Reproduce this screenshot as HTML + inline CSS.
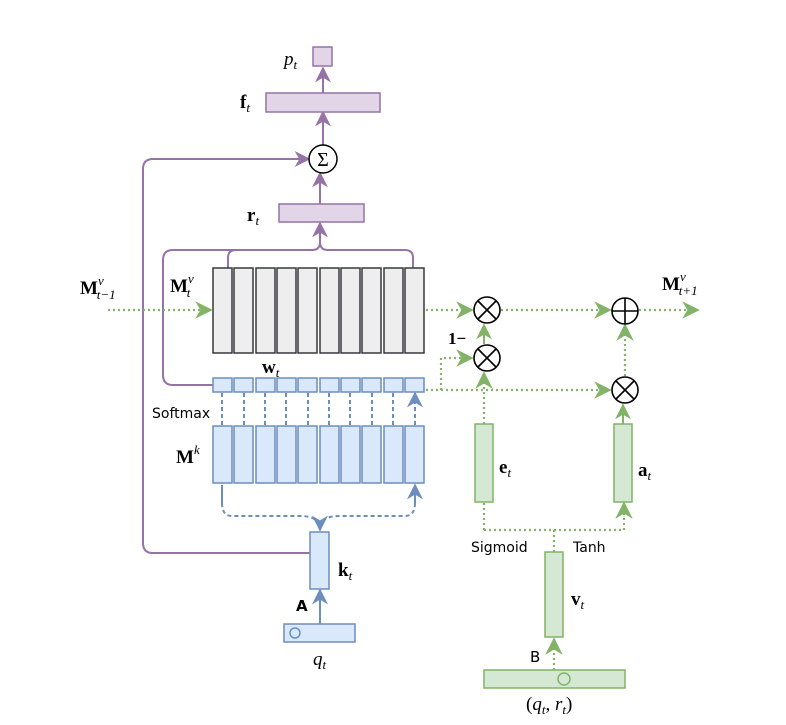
<!DOCTYPE html>
<html><head><meta charset="utf-8"><style>
body{margin:0;background:#fff}
svg{display:block}
</style></head><body>
<svg width="786" height="725" viewBox="0 0 786 725" xmlns="http://www.w3.org/2000/svg">
<defs>
<marker id="ap" viewBox="0 0 10 10" refX="9" refY="5" markerWidth="8" markerHeight="8" orient="auto"><path d="M0,0L10,5L0,10L3,5z" fill="#9673a6"/></marker>
<marker id="ab" viewBox="0 0 10 10" refX="9" refY="5" markerWidth="8" markerHeight="8" orient="auto"><path d="M0,0L10,5L0,10L3,5z" fill="#6c8ebf"/></marker>
<marker id="ag" viewBox="0 0 10 10" refX="9" refY="5" markerWidth="8" markerHeight="8" orient="auto"><path d="M0,0L10,5L0,10L3,5z" fill="#82b366"/></marker>
</defs>
<g stroke="#9673a6" stroke-width="2" fill="none">
<path d="M323,145V68" marker-end="url(#ap)"/>
<path d="M323,173V112" marker-end="url(#ap)"/>
<path d="M320,204V173" marker-end="url(#ap)"/>
<path d="M228,268V258Q228,250 236,250H312Q320,250 320,242M413,268V258Q413,250 405,250H328Q320,250 320,242V223" marker-end="url(#ap)"/>
<path d="M213,385H173Q163,385 163,375V260Q163,250 173,250H236"/>
<path d="M310,553H153Q143,553 143,543V169Q143,159 153,159H309" marker-end="url(#ap)"/>
</g>
<rect x="313" y="47" width="19" height="19" fill="#e1d5e7" stroke="#9673a6" stroke-width="1.5"/>
<rect x="266" y="93" width="114" height="19" fill="#e1d5e7" stroke="#9673a6" stroke-width="1.5"/>
<rect x="279" y="204" width="85" height="18" fill="#e1d5e7" stroke="#9673a6" stroke-width="1.5"/>
<circle cx="323" cy="159" r="14" fill="#fff" stroke="#000" stroke-width="1.5"/>
<text x="323" y="166" text-anchor="middle" style="font:20px 'Liberation Serif',serif">Σ</text>
<g stroke-width="1.5">
<g fill="#eeeeee" stroke="#36393d">
<rect x="213" y="268" width="19" height="85"/><rect x="234" y="268" width="19" height="85"/><rect x="256" y="268" width="19" height="85"/><rect x="277" y="268" width="19" height="85"/><rect x="298" y="268" width="19" height="85"/><rect x="320" y="268" width="19" height="85"/><rect x="341" y="268" width="19" height="85"/><rect x="362" y="268" width="19" height="85"/><rect x="384" y="268" width="19" height="85"/><rect x="405" y="268" width="19" height="85"/>
</g>
<g fill="#dae8fc" stroke="#6c8ebf">
<rect x="213" y="378" width="19" height="14"/><rect x="234" y="378" width="19" height="14"/><rect x="256" y="378" width="19" height="14"/><rect x="277" y="378" width="19" height="14"/><rect x="298" y="378" width="19" height="14"/><rect x="320" y="378" width="19" height="14"/><rect x="341" y="378" width="19" height="14"/><rect x="362" y="378" width="19" height="14"/><rect x="384" y="378" width="19" height="14"/><rect x="405" y="378" width="19" height="14"/>
<rect x="213" y="426" width="19" height="57"/><rect x="234" y="426" width="19" height="57"/><rect x="256" y="426" width="19" height="57"/><rect x="277" y="426" width="19" height="57"/><rect x="298" y="426" width="19" height="57"/><rect x="320" y="426" width="19" height="57"/><rect x="341" y="426" width="19" height="57"/><rect x="362" y="426" width="19" height="57"/><rect x="384" y="426" width="19" height="57"/><rect x="405" y="426" width="19" height="57"/>
<rect x="310" y="532" width="19" height="57"/>
<rect x="284" y="624" width="71" height="18"/>
<circle cx="295" cy="633" r="5"/>
</g>
</g>
<g stroke="#6c8ebf" stroke-width="2" fill="none" stroke-dasharray="4,3">
<path d="M222,425V393M244,425V393M265,425V393M286,425V393M308,425V393M329,425V393M350,425V393M372,425V393M393,425V393M415,425V393" marker-end="url(#ab)"/>
<path d="M222,503Q222,516 232,516H300Q320,516 320,530" marker-end="url(#ab)"/>
<path d="M415,503Q415,516 405,516H340Q322,516 322,525"/>
</g>
<path d="M222,503V485M415,503V485" stroke="#6c8ebf" stroke-width="2" marker-end="url(#ab)"/>
<path d="M320,624V590" stroke="#6c8ebf" stroke-width="2" marker-end="url(#ab)"/>
<g stroke="#82b366" stroke-width="2.2" fill="none" stroke-dasharray="2,3">
<path d="M108,310H211" marker-end="url(#ag)"/>
<path d="M426,310H472" marker-end="url(#ag)"/>
<path d="M501,310H610" marker-end="url(#ag)"/>
<path d="M639,310H698" marker-end="url(#ag)"/>
<path d="M426,390H610" marker-end="url(#ag)"/>
<path d="M441,390V358H472" marker-end="url(#ag)"/>
<path d="M625,376V325" marker-end="url(#ag)"/>
<path d="M484,424V373" marker-end="url(#ag)"/>
<path d="M554,552V530M484,530H624M484,530V503M624,530V503" marker-end="url(#ag)"/>
<path d="M554,670V639" marker-end="url(#ag)"/>
</g>
<path d="M484,344V325" stroke="#82b366" stroke-width="2" marker-end="url(#ag)"/>
<path d="M623,424V405" stroke="#82b366" stroke-width="2" marker-end="url(#ag)"/>
<g fill="#d5e8d4" stroke="#82b366" stroke-width="1.5">
<rect x="475" y="424" width="18" height="78"/>
<rect x="614" y="424" width="18" height="78"/>
<rect x="545" y="552" width="18" height="85"/>
<rect x="484" y="670" width="141" height="18"/>
<circle cx="564" cy="679" r="6"/>
</g>
<g fill="#fff" stroke="#000" stroke-width="1.6">
<circle cx="487" cy="310" r="13"/><path d="M478,301L496,319M496,301L478,319"/>
<circle cx="487" cy="358" r="13"/><path d="M478,349L496,367M496,349L478,367"/>
<circle cx="625" cy="390" r="13"/><path d="M616,381L634,399M634,381L616,399"/>
<circle cx="625" cy="311" r="13"/><path d="M625,298V324M612,311H638"/>
</g>
<g style="font-family:'Liberation Serif',serif;font-size:19px" fill="#000">
<text x="284" y="65" style="font-style:italic;font-size:19px">p<tspan style="font-size:13px" dy="4">t</tspan></text>
<text x="240" y="108" style="font-weight:bold;font-size:19px">f<tspan style="font-size:13px;font-weight:normal;font-style:italic" dy="4">t</tspan></text>
<text x="247" y="221" style="font-weight:bold;font-size:19px">r<tspan style="font-size:13px;font-weight:normal;font-style:italic" dy="4">t</tspan></text>
<text x="80" y="294" style="font-weight:bold;font-size:19px">M<tspan style="font-size:13px;font-weight:normal;font-style:italic" dy="-9">v</tspan><tspan style="font-size:13px;font-weight:normal;font-style:italic" dx="-7" dy="14">t−1</tspan></text>
<text x="170" y="292" style="font-weight:bold;font-size:19px">M<tspan style="font-size:13px;font-weight:normal;font-style:italic" dy="-9">v</tspan><tspan style="font-size:13px;font-weight:normal;font-style:italic" dx="-7" dy="14">t</tspan></text>
<text x="662" y="290" style="font-weight:bold;font-size:19px">M<tspan style="font-size:13px;font-weight:normal;font-style:italic" dy="-9">v</tspan><tspan style="font-size:13px;font-weight:normal;font-style:italic" dx="-7" dy="14">t+1</tspan></text>
<text x="262" y="373" style="font-weight:bold;font-size:19px">w<tspan style="font-size:13px;font-weight:normal;font-style:italic" dy="4">t</tspan></text>
<text x="176" y="463" style="font-weight:bold;font-size:19px">M<tspan style="font-size:13px;font-weight:normal;font-style:italic" dy="-9">k</tspan></text>
<text x="338" y="576" style="font-weight:bold;font-size:19px">k<tspan style="font-size:13px;font-weight:normal;font-style:italic" dy="4">t</tspan></text>
<text x="313" y="665" style="font-style:italic;font-size:19px">q<tspan style="font-size:13px" dy="4">t</tspan></text>
<text x="448" y="344" style="font-weight:bold;font-size:17px">1−</text>
<text x="499" y="473" style="font-weight:bold;font-size:19px">e<tspan style="font-size:13px;font-weight:normal;font-style:italic" dy="4">t</tspan></text>
<text x="638" y="476" style="font-weight:bold;font-size:19px">a<tspan style="font-size:13px;font-weight:normal;font-style:italic" dy="4">t</tspan></text>
<text x="571" y="605" style="font-weight:bold;font-size:19px">v<tspan style="font-size:13px;font-weight:normal;font-style:italic" dy="4">t</tspan></text>
<text x="526" y="710" style="font-size:19px">(<tspan style="font-style:italic">q</tspan><tspan style="font-size:13px;font-style:italic" dy="4">t</tspan><tspan dy="-4">, </tspan><tspan style="font-style:italic">r</tspan><tspan style="font-size:13px;font-style:italic" dy="4">t</tspan><tspan dy="-4">)</tspan></text>
</g>
<g style="font-family:'DejaVu Sans','Liberation Sans',sans-serif;font-size:14px" fill="#000">
<text x="152" y="418" style="font-size:14px">Softmax</text>
<text x="471" y="552" style="font-size:14px">Sigmoid</text>
<text x="573" y="552" style="font-size:14px">Tanh</text>
<text x="296" y="611" style="font-size:15px;font-weight:bold">A</text>
<text x="530" y="662" style="font-size:15px">B</text>
</g>
</svg>
</body></html>
